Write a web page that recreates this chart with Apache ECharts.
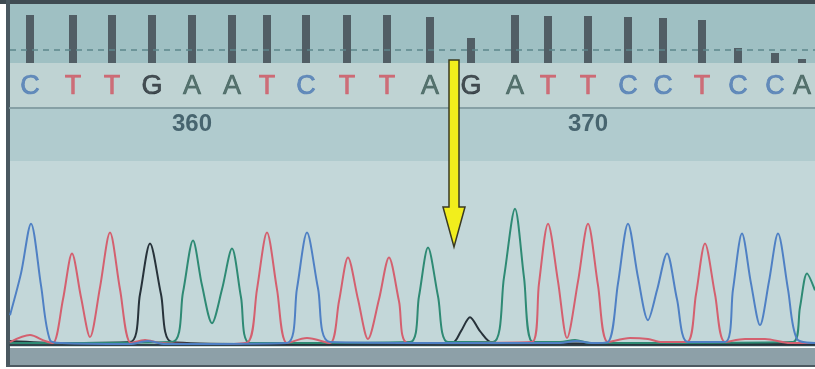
<!DOCTYPE html>
<html>
<head>
<meta charset="utf-8">
<script src="https://cdn.jsdelivr.net/npm/echarts@6/dist/echarts.min.js"></script>
<style>
  html, body { margin: 0; padding: 0; background: #fff; }
  #chart { width: 815px; height: 369px; }
</style>
</head>
<body>
<div id="chart"></div>
<script>
// base calls, their peak locations (scan units) and quality values
const bases = ["C", "T", "T", "G", "A", "A", "T", "C", "T", "T", "A", "G", "A", "T", "T", "C", "C", "T", "C", "C", "A"];
const basePos = [30, 73, 112, 152, 192, 232, 267, 306, 347, 387, 430, 471, 515, 548, 588, 628, 663, 702, 738, 775, 802];
const quality = [48, 48, 48, 48, 48, 48, 48, 48, 48, 48, 46, 25, 48, 47, 47, 46, 45, 43, 15, 10, 4];
const firstBaseNum = 356;
const qvThreshold = 13;
const arrowScan = 454;

// trace points [scan, signal]
const traceC = [
  [10, 30], [21, 72], [31, 122], [41, 60], [50, 5], [62, 2], [130, 1], [148, 4], [165, 1],
  [287, 2], [297, 57], [307, 113], [318, 57], [330, 3],
  [440, 2], [560, 2], [576, 4], [592, 2], [608, 3], [618, 62], [628, 122], [638, 68], [648, 25],
  [657, 55], [667, 92], [677, 46], [688, 3],
  [725, 3], [733, 56], [742, 112], [751, 62], [760, 20], [769, 64], [778, 112], [788, 56], [797, 6], [815, 2]
];
const traceT = [
  [10, 3], [30, 10], [45, 4], [53, 2], [63, 46], [72, 92], [81, 48], [90, 8], [100, 58], [110, 113],
  [120, 56], [131, 2], [145, 5], [160, 2], [205, 1], [225, 1],
  [248, 3], [257, 56], [267, 113], [277, 56], [287, 2], [307, 7], [330, 2],
  [339, 44], [348, 88], [358, 46], [368, 6], [379, 46], [389, 88], [399, 44], [408, 2],
  [532, 3], [539, 62], [548, 122], [558, 64], [567, 7], [578, 64], [588, 122], [598, 60], [608, 3],
  [630, 7], [648, 6], [662, 3], [687, 3], [696, 51], [705, 102], [715, 51], [725, 3],
  [745, 6], [765, 6], [790, 2], [815, 2]
];
const traceA = [
  [10, 2], [172, 3], [183, 53], [193, 105], [202, 60], [212, 22], [222, 56], [232, 97], [241, 48], [250, 2],
  [410, 3], [419, 49], [428, 98], [438, 49], [448, 3],
  [493, 3], [504, 68], [515, 137], [524, 68], [533, 3], [560, 3], [575, 5], [590, 2],
  [793, 3], [800, 38], [807, 72], [815, 55]
];
const traceG = [
  [10, 4], [60, 2], [130, 3], [140, 51], [150, 102], [161, 51], [172, 3], [250, 1],
  [452, 2], [461, 14], [470, 28], [480, 14], [493, 2], [815, 1]
];

const letterColor = { A: "#3d5c57", C: "#4c79b4", G: "#252d33", T: "#cf5663" };
const traceColor = { A: "#2e8a74", C: "#4f80c4", G: "#27323a", T: "#d4606f" };

const chart = echarts.init(document.getElementById("chart"));

const hiddenX = (i) => ({ type: "value", gridIndex: i, min: 10, max: 815, show: false });
const hiddenY = (i, min, max) => ({ type: "value", gridIndex: i, min: min, max: max, show: false });

const traceSeries = (name, data) => ({
  name: name,
  type: "line",
  xAxisIndex: 3,
  yAxisIndex: 3,
  data: data,
  smooth: 0.3,
  showSymbol: false,
  lineStyle: { color: traceColor[name], width: 2 },
  silent: true,
});

const option = {
  animation: false,
  backgroundColor: "#ffffff",
  grid: [
    { left: 10, right: 0, top: 4, height: 59, show: true, borderWidth: 0, backgroundColor: "#9fc0c3" },
    { left: 10, right: 0, top: 63, height: 45, show: true, borderWidth: 0, backgroundColor: "#bfd3d3" },
    { left: 10, right: 0, top: 108, height: 53, show: true, borderWidth: 0, backgroundColor: "#b0cbce" },
    { left: 10, right: 0, top: 161, height: 186, show: true, borderWidth: 0, backgroundColor: "#c3d7d9" },
  ],
  xAxis: [
    hiddenX(0),
    {
      type: "value", gridIndex: 1, min: 10, max: 815,
      axisLine: { show: true, lineStyle: { color: "#86a0a5", width: 2 } },
      axisTick: { show: false }, axisLabel: { show: false }, splitLine: { show: false },
    },
    hiddenX(2),
    {
      type: "value", gridIndex: 3, min: 10, max: 815,
      axisLine: { show: true, lineStyle: { color: "#34424a", width: 2 } },
      axisTick: { show: false }, axisLabel: { show: false }, splitLine: { show: false },
    },
  ],
  yAxis: [
    hiddenY(0, 0, 59),
    hiddenY(1, 0, 1),
    hiddenY(2, 0, 1),
    hiddenY(3, -2, 185),
  ],
  series: [
    {
      type: "bar",
      xAxisIndex: 0,
      yAxisIndex: 0,
      barWidth: 8,
      data: basePos.map((p, i) => [p, quality[i]]),
      itemStyle: { color: "#48535b", opacity: 0.9 },
      silent: true,
      markLine: {
        silent: true,
        symbol: "none",
        label: { show: false },
        lineStyle: { color: "#5d878c", type: [6, 5], width: 1.5 },
        data: [{ yAxis: qvThreshold }],
      },
    },
    {
      type: "scatter",
      xAxisIndex: 1,
      yAxisIndex: 1,
      symbolSize: 1,
      itemStyle: { color: "rgba(0,0,0,0)" },
      silent: true,
      data: basePos.map((p, i) => ({
        value: [p, 0.48],
        label: { color: letterColor[bases[i]], textBorderColor: letterColor[bases[i]] },
      })),
      label: {
        show: true,
        position: "inside",
        fontFamily: "Liberation Sans",
        fontSize: 27,
        textBorderWidth: 0.7,
        formatter: (p) => bases[p.dataIndex],
      },
    },
    {
      type: "scatter",
      xAxisIndex: 2,
      yAxisIndex: 2,
      symbolSize: 1,
      itemStyle: { color: "rgba(0,0,0,0)" },
      silent: true,
      data: basePos
        .map((p, i) => ({ num: firstBaseNum + i, value: [p, 0.7] }))
        .filter((d) => d.num % 10 === 0)
        .map((d) => ({ value: d.value, name: String(d.num) })),
      label: {
        show: true,
        position: "inside",
        fontFamily: "Liberation Sans",
        fontSize: 24,
        fontWeight: "bold",
        color: "#2d4b58",
        formatter: (p) => p.name,
      },
    },
    traceSeries("G", traceG),
    traceSeries("A", traceA),
    traceSeries("T", traceT),
    traceSeries("C", traceC),
  ],
  graphic: [
    { id: "top", type: "rect", shape: { x: 0, y: 0, width: 815, height: 4 }, style: { fill: "#3f4b52" } },
    { id: "left", type: "rect", shape: { x: 6, y: 0, width: 4, height: 367 }, style: { fill: "#4a5860" } },
    { id: "band", type: "rect", shape: { x: 10, y: 348, width: 805, height: 17 }, style: { fill: "#8da0a8" } },
    { id: "bandEdge", type: "rect", shape: { x: 6, y: 365, width: 809, height: 2 }, style: { fill: "#4d5a62" } },
  ],
};

chart.setOption(option);

// yellow arrow pointing at the mixed position
const cx = chart.convertToPixel({ xAxisIndex: 3 }, arrowScan);
chart.setOption({
  graphic: [
    {
      id: "arrow",
      type: "polygon",
      z: 100,
      shape: {
        points: [
          [cx - 5, 60], [cx + 5, 60], [cx + 5, 207], [cx + 11, 207],
          [cx, 247], [cx - 11, 207], [cx - 5, 207],
        ],
      },
      style: { fill: "#f2ee1c", stroke: "#3a3a22", lineWidth: 1.5 },
    },
  ],
});

window.addEventListener("resize", () => chart.resize());
</script>
</body>
</html>
